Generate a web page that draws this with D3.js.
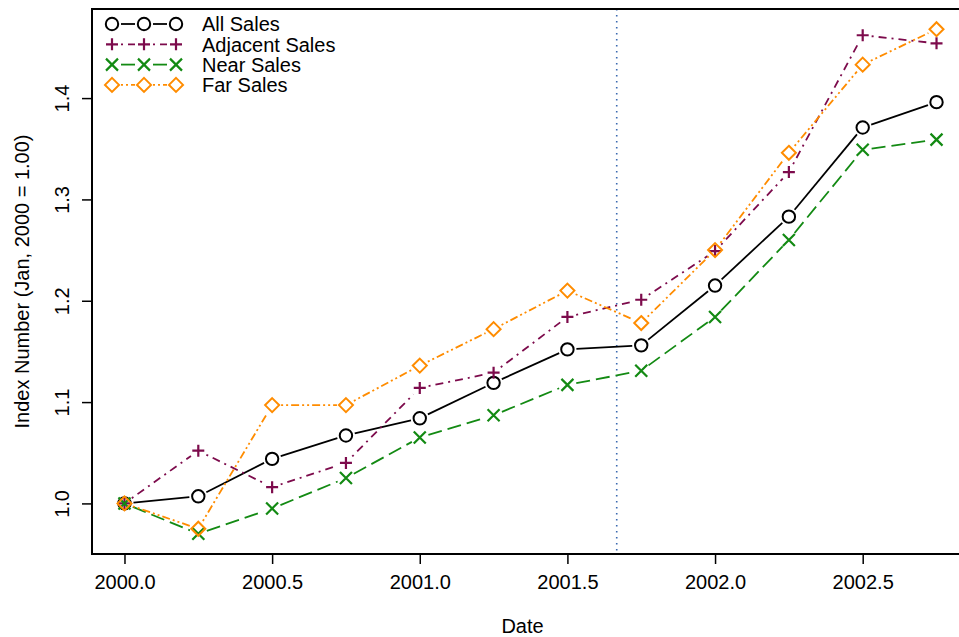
<!DOCTYPE html>
<html>
<head>
<meta charset="utf-8">
<script src="https://cdn.jsdelivr.net/npm/d3@7"></script>
<style>
  body { margin: 0; background: #fff; }
  svg { display: block; font-family: "Liberation Sans", Arial, sans-serif; }
</style>
</head>
<body>
<div class="chart"></div>
<script>
// quarterly dates
const dates = [2000.0, 2000.25, 2000.5, 2000.75, 2001.0, 2001.25, 2001.5, 2001.75, 2002.0, 2002.25, 2002.5, 2002.75];

const allSales      = [1.000, 1.007, 1.044, 1.067, 1.084, 1.119, 1.152, 1.156, 1.215, 1.283, 1.371, 1.396];
const adjacentSales = [1.000, 1.052, 1.016, 1.040, 1.114, 1.129, 1.184, 1.201, 1.249, 1.327, 1.462, 1.454];
const nearSales     = [1.000, 0.970, 0.995, 1.025, 1.065, 1.087, 1.117, 1.131, 1.184, 1.260, 1.349, 1.359];
const farSales      = [1.000, 0.975, 1.097, 1.097, 1.136, 1.172, 1.210, 1.178, 1.250, 1.346, 1.433, 1.468];

const seriesNames = ["All Sales", "Adjacent Sales", "Near Sales", "Far Sales"];
const xTicks = [2000.0, 2000.5, 2001.0, 2001.5, 2002.0, 2002.5];
const yTicks = [1.0, 1.1, 1.2, 1.3, 1.4];
const eventDate = 2001.667;

const series = [
  {name: seriesNames[0], values: allSales,      color: "#000000", dash: null,            shape: "circle"},
  {name: seriesNames[1], values: adjacentSales, color: "#7d0b4c", dash: "2,5,8,5",       shape: "plus"},
  {name: seriesNames[2], values: nearSales,     color: "#138a13", dash: "14,6",          shape: "cross"},
  {name: seriesNames[3], values: farSales,      color: "#ff8c00", dash: "2,3,2,3,8,3",   shape: "diamond"}
];

const W = 959, H = 637;
const margin = {left: 92, top: 9, right: 969, bottom: 554};
const fontSize = 20;

const svg = d3.select(".chart").append("svg")
  .attr("width", W)
  .attr("height", H);

// R-style 4% padding of the data range
const allVals = series.flatMap(s => s.values);
const yExt = d3.extent(allVals);
const yPad = (yExt[1] - yExt[0]) * 0.04;
const xExt = d3.extent(dates);
const xPad = (xExt[1] - xExt[0]) * 0.04;

const xScale = d3.scaleLinear()
  .domain([xExt[0] - xPad, xExt[1] + xPad])
  .range([margin.left, margin.right]);

const yScale = d3.scaleLinear()
  .domain([yExt[0] - yPad, yExt[1] + yPad])
  .range([margin.bottom, margin.top]);

// event line
svg.append("line")
  .attr("x1", xScale(eventDate)).attr("x2", xScale(eventDate))
  .attr("y1", margin.top).attr("y2", margin.bottom)
  .attr("stroke", "#3a69b0")
  .attr("stroke-width", 1.6)
  .attr("stroke-dasharray", "1.5,4.5");

// draw a marker
function marker(g, shape, color, x, y) {
  if (shape === "circle") {
    g.append("circle").attr("cx", x).attr("cy", y).attr("r", 6.2)
      .attr("fill", "none").attr("stroke", color).attr("stroke-width", 2);
  } else if (shape === "plus") {
    g.append("path").attr("d", `M${x-6},${y}H${x+6}M${x},${y-6}V${y+6}`)
      .attr("stroke", color).attr("stroke-width", 2.2);
  } else if (shape === "cross") {
    g.append("path").attr("d", `M${x-6},${y-6}L${x+6},${y+6}M${x-6},${y+6}L${x+6},${y-6}`)
      .attr("stroke", color).attr("stroke-width", 2.2);
  } else if (shape === "diamond") {
    g.append("path").attr("d", `M${x},${y-7}L${x+7},${y}L${x},${y+7}L${x-7},${y}Z`)
      .attr("fill", "none").attr("stroke", color).attr("stroke-width", 2);
  }
}

// type="b": segments with gaps around points
const gap = 9;
function gappedSegment(g, s, x1, y1, x2, y2) {
  const dx = x2 - x1, dy = y2 - y1;
  const len = Math.sqrt(dx*dx + dy*dy);
  if (len <= 2 * gap) return;
  const ux = dx / len, uy = dy / len;
  g.append("line")
    .attr("x1", x1 + ux*gap).attr("y1", y1 + uy*gap)
    .attr("x2", x2 - ux*gap).attr("y2", y2 - uy*gap)
    .attr("stroke", s.color)
    .attr("stroke-width", 1.8)
    .attr("stroke-dasharray", s.dash);
}

series.forEach(s => {
  const g = svg.append("g");
  const pts = dates.map((d, i) => [xScale(d), yScale(s.values[i])]);
  for (let i = 0; i < pts.length - 1; i++) {
    gappedSegment(g, s, pts[i][0], pts[i][1], pts[i+1][0], pts[i+1][1]);
  }
  pts.forEach(p => marker(g, s.shape, s.color, p[0], p[1]));
});

// box
svg.append("rect")
  .attr("x", margin.left).attr("y", margin.top)
  .attr("width", margin.right - margin.left).attr("height", margin.bottom - margin.top)
  .attr("fill", "none").attr("stroke", "#000").attr("stroke-width", 2);

// axes
const xAxis = d3.axisBottom(xScale).tickValues(xTicks).tickFormat(d3.format(".1f")).tickSize(10).tickPadding(11);
const xg = svg.append("g")
  .attr("class", "axis x-axis")
  .attr("transform", `translate(0, ${margin.bottom})`)
  .call(xAxis);
xg.select(".domain").remove();
xg.selectAll("line").attr("stroke", "#000").attr("stroke-width", 1.5);
xg.selectAll("text").attr("font-size", fontSize).attr("fill", "#000").attr("font-family", "Liberation Sans, Arial, sans-serif");

const yAxis = d3.axisLeft(yScale).tickValues(yTicks).tickFormat(d3.format(".1f")).tickSize(10);
const yg = svg.append("g")
  .attr("class", "axis y-axis")
  .attr("transform", `translate(${margin.left}, 0)`)
  .call(yAxis);
yg.select(".domain").remove();
yg.selectAll("line").attr("stroke", "#000").attr("stroke-width", 1.5);
yg.selectAll("text")
  .attr("font-size", fontSize).attr("fill", "#000")
  .attr("font-family", "Liberation Sans, Arial, sans-serif")
  .attr("x", null)
  .attr("text-anchor", "middle")
  .attr("transform", "translate(-23,0) rotate(-90)")
  .attr("dy", "0em");

// axis titles
svg.append("text")
  .attr("x", (margin.left + margin.right) / 2 - 8)
  .attr("y", 633)
  .attr("text-anchor", "middle")
  .attr("font-size", fontSize)
  .text("Date");

svg.append("text")
  .attr("transform", `translate(29, ${(margin.top + margin.bottom) / 2}) rotate(-90)`)
  .attr("text-anchor", "middle")
  .attr("font-size", fontSize)
  .text("Index Number (Jan, 2000 = 1.00)");

// legend
const legX = [112, 144, 176];
const legend = svg.selectAll(".legend")
  .data(series)
  .enter()
  .append("g")
  .attr("class", "legend")
  .attr("transform", (d, i) => `translate(0, ${24 + i * 20.3})`);

legend.each(function(s) {
  const g = d3.select(this);
  for (let i = 0; i < legX.length - 1; i++) {
    gappedSegment(g, s, legX[i], 0, legX[i+1], 0);
  }
  legX.forEach(x => marker(g, s.shape, s.color, x, 0));
});

legend.append("text")
  .attr("x", 202)
  .attr("y", 0)
  .attr("dy", "0.36em")
  .attr("font-size", fontSize)
  .text(d => d.name);
</script>
</body>
</html>
